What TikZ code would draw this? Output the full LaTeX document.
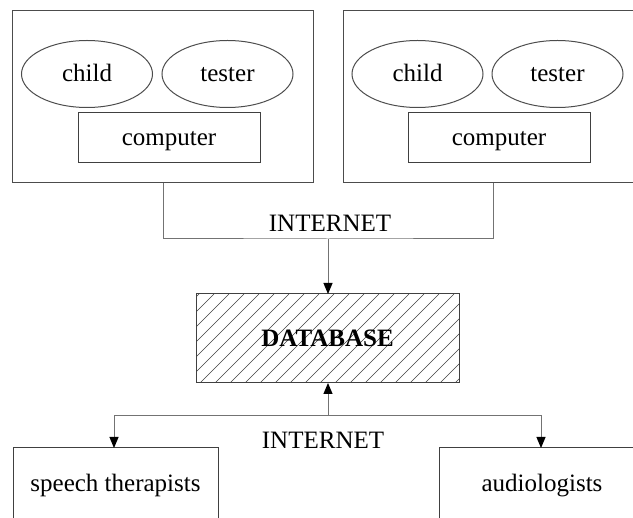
\documentclass[tikz,border=0pt]{standalone}
\usepackage{fontspec}
\setmainfont{Liberation Serif}
\usetikzlibrary{shapes.geometric,arrows.meta}
\begin{document}
\begin{tikzpicture}[x=1pt,y=-1pt,
  every node/.style={font=\fontsize{25}{28}\selectfont, inner sep=0pt, outer sep=0pt, text height=17pt, text depth=1pt},
  outerbox/.style={draw=black!70, line width=1pt, rectangle, minimum width=301pt, minimum height=172pt},
  oval/.style={draw=black!70, line width=1pt, ellipse, minimum width=131pt, minimum height=67pt},
  compbox/.style={draw=black!75, line width=1pt, rectangle, minimum width=182pt, minimum height=50pt},
  dbbox/.style={draw=black!75, line width=1pt, rectangle, minimum width=263pt, minimum height=89pt, font=\fontsize{25}{28}\selectfont\bfseries},
  hatch/.style={draw=black!75, line width=0.7pt},
  userbox/.style={draw=black!75, line width=1pt, rectangle, minimum width=205pt, minimum height=72pt},
  wire/.style={draw=black!55, line width=1pt},
  arr/.style={wire, -{Triangle[length=11pt,width=9pt,color=black]}},
  lbl/.style={}
]
\useasboundingbox (0,0) rectangle (633,518);
\clip (0,0) rectangle (633,518);

% left site
\node[outerbox] (lsite) at (162.5,97) {};
\node[oval] (lchild) at (87,74) {child};
\node[oval] (ltester) at (227.5,74) {tester};
\node[compbox] (lcomp) at (169,138) {computer};

% right site
\node[outerbox] (rsite) at (493.5,97) {};
\node[oval] (rchild) at (417.5,74) {child};
\node[oval] (rtester) at (557.5,74) {tester};
\node[compbox] (rcomp) at (499,138) {computer};

% database hatch
\begin{scope}
  \clip (196,294) rectangle (459,383);
  \foreach \k in {0,...,24} {
    \draw[hatch] (110+\k*15,383) -- ++(89,-89);
  }
\end{scope}
\node[dbbox] (db) at (327.5,338.5) {DATABASE};

% users
\node[userbox] (st) at (115.5,484) {speech therapists};
\node[userbox] (au) at (542,484) {audiologists};

% labels
\node[lbl] (inet1) at (330,224) {INTERNET};
\node[lbl] (inet2) at (323,441) {INTERNET};

% connectors
\coordinate (jt) at (328,239);
\coordinate (jb) at (328,416);
\draw[wire] (lsite.south -| 163,0) |- (jt) -| (rsite.south);
\draw[arr] (jt) -- (db.north -| jt);
\draw[arr] (jb) -- (db.south -| jb);
\draw[arr] (jb) -| (st.north -| 114,0);
\draw[arr] (jb) -| (au.north -| 541,0);
\end{tikzpicture}
\end{document}
